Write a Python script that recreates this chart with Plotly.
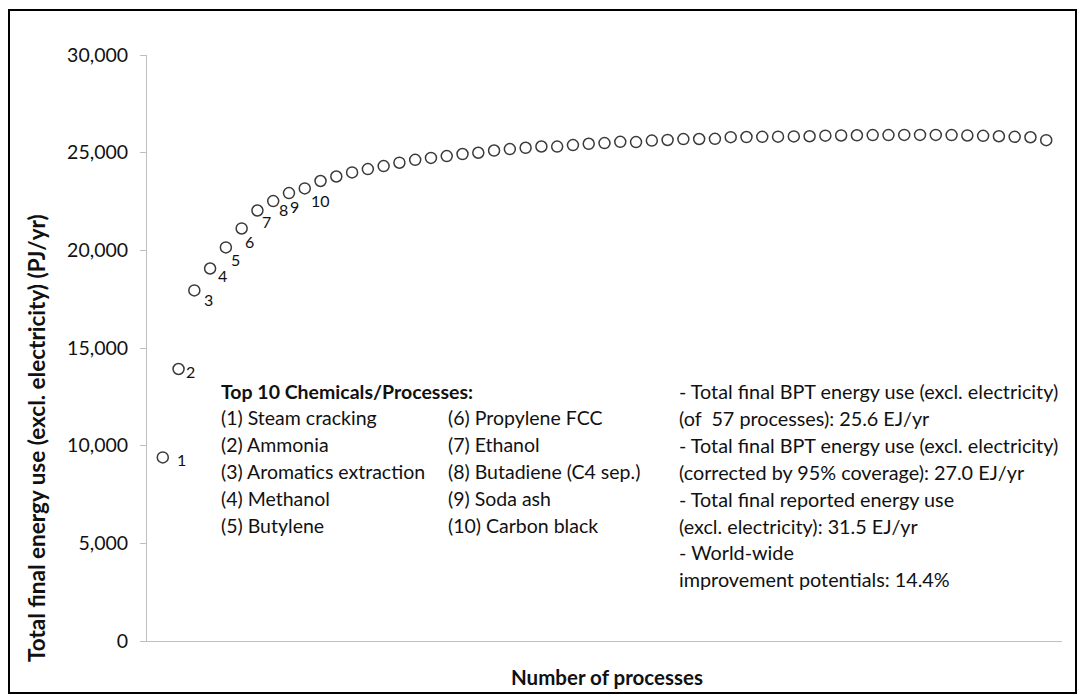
import plotly.graph_objects as go

# ---------------- data ----------------
process_index = list(range(1, 58))
cumulative_energy = [
    9400, 13925, 17950, 19070, 20150, 21120, 22040, 22520, 22930, 23170,
    23550, 23780, 23990, 24160, 24315, 24485, 24635, 24730, 24825, 24930,
    24995, 25110, 25185, 25250, 25315, 25310, 25390, 25455, 25490, 25555,
    25540, 25620, 25650, 25695, 25700, 25710, 25795, 25800, 25810, 25820,
    25830, 25840, 25870, 25880, 25890, 25900, 25900, 25910, 25910, 25910,
    25900, 25880, 25860, 25840, 25810, 25790, 25640,
]
label_numbers = ["1", "2", "3", "4", "5", "6", "7", "8", "9", "10"]
label_offsets_px = [(19, 2), (12, 2), (14, 9), (12, 7), (10, 12),
                    (8, 13), (9, 11), (10, 8), (6, 13), (16, 12)]

legend_title = "Top 10 Chemicals/Processes:"
left_col = ["(1) Steam cracking", "(2) Ammonia", "(3) Aromatics extraction",
            "(4) Methanol", "(5) Butylene"]
right_col = ["(6) Propylene FCC", "(7) Ethanol", "(8) Butadiene (C4 sep.)",
             "(9) Soda ash", "(10) Carbon black"]
info_lines = [
    "- Total final BPT energy use (excl. electricity)",
    "(of  57 processes): 25.6 EJ/yr",
    "- Total final BPT energy use (excl. electricity)",
    "(corrected by 95% coverage): 27.0 EJ/yr",
    "- Total final reported energy use",
    "(excl. electricity): 31.5 EJ/yr",
    "- World-wide",
    "improvement potentials: 14.4%",
]
y_ticks = [0, 5000, 10000, 15000, 20000, 25000, 30000]

# ---------------- layout geometry ----------------
W, H = 1083, 700
L, R, T, B = 147, 1062, 55, 641
FONT = "Lato"
TXT = "#111111"
BODY = 19.5


def px_x(p):
    return (p - L) / (R - L)


def px_y(p):
    return (B - p) / (B - T)


fig = go.Figure()
fig.add_trace(go.Scatter(
    x=process_index, y=cumulative_energy, mode="markers",
    marker=dict(symbol="circle-open", size=11, color="#3a3a3a",
                line=dict(width=1.5, color="#3a3a3a")),
    hoverinfo="x+y", showlegend=False,
))

ann = []
for i, lab in enumerate(label_numbers):
    dx, dy = label_offsets_px[i]
    ann.append(dict(x=process_index[i], y=cumulative_energy[i], text=lab,
                    xref="x", yref="y", showarrow=False, xshift=dx, yshift=-dy,
                    font=dict(family=FONT, size=16, color=TXT)))

row0 = 391
row_gap = 26.9
ann.append(dict(x=px_x(219), y=px_y(row0), xref="paper", yref="paper",
                text="<b>" + legend_title + "</b>", showarrow=False,
                xanchor="left", yanchor="middle",
                font=dict(family=FONT, size=BODY, color=TXT)))
for k, t in enumerate(left_col):
    ann.append(dict(x=px_x(219), y=px_y(row0 + (k + 1) * row_gap), xref="paper",
                    yref="paper", text=t, showarrow=False, xanchor="left",
                    yanchor="middle", font=dict(family=FONT, size=BODY, color=TXT)))
for k, t in enumerate(right_col):
    ann.append(dict(x=px_x(446), y=px_y(row0 + (k + 1) * row_gap), xref="paper",
                    yref="paper", text=t, showarrow=False, xanchor="left",
                    yanchor="middle", font=dict(family=FONT, size=BODY, color=TXT)))
for k, t in enumerate(info_lines):
    ann.append(dict(x=px_x(677), y=px_y(row0 + k * row_gap), xref="paper",
                    yref="paper", text=t, showarrow=False, xanchor="left",
                    yanchor="middle", font=dict(family=FONT, size=19.8, color=TXT)))

# axis titles
ann.append(dict(x=px_x(607), y=px_y(677), xref="paper", yref="paper",
                text="<b>Number of processes</b>", showarrow=False,
                xanchor="center", yanchor="middle",
                font=dict(family=FONT, size=20.5, color=TXT)))
ann.append(dict(x=px_x(36), y=px_y(438), xref="paper", yref="paper",
                text="<b>Total final energy use (excl. electricity) (PJ/yr)</b>",
                showarrow=False, textangle=-90, xanchor="center", yanchor="middle",
                font=dict(family=FONT, size=22.5, color=TXT)))

fig.update_layout(
    width=W, height=H,
    margin=dict(l=L, r=W - R, t=T, b=H - B, pad=0),
    paper_bgcolor="white", plot_bgcolor="white",
    annotations=ann,
    shapes=[dict(type="rect", xref="paper", yref="paper",
                 x0=px_x(9), x1=px_x(1076), y0=px_y(693), y1=px_y(10),
                 line=dict(color="black", width=2), fillcolor="rgba(0,0,0,0)")],
    xaxis=dict(range=[0, 58], showline=True, linecolor="#BFBFBF", linewidth=1,
               showgrid=False, zeroline=False, showticklabels=False, ticks=""),
    yaxis=dict(range=[0, 30000], tickvals=y_ticks, tickformat=",",
               showline=True, linecolor="#BFBFBF", linewidth=1, showgrid=False,
               zeroline=False, ticks="outside", ticklen=6, tickcolor="#BFBFBF",
               ticklabelstandoff=8,
               tickfont=dict(family=FONT, size=19.5, color=TXT)),
)

fig.write_html("out.html", config={"displayModeBar": False},
               post_script="document.body.style.margin='0px';")
